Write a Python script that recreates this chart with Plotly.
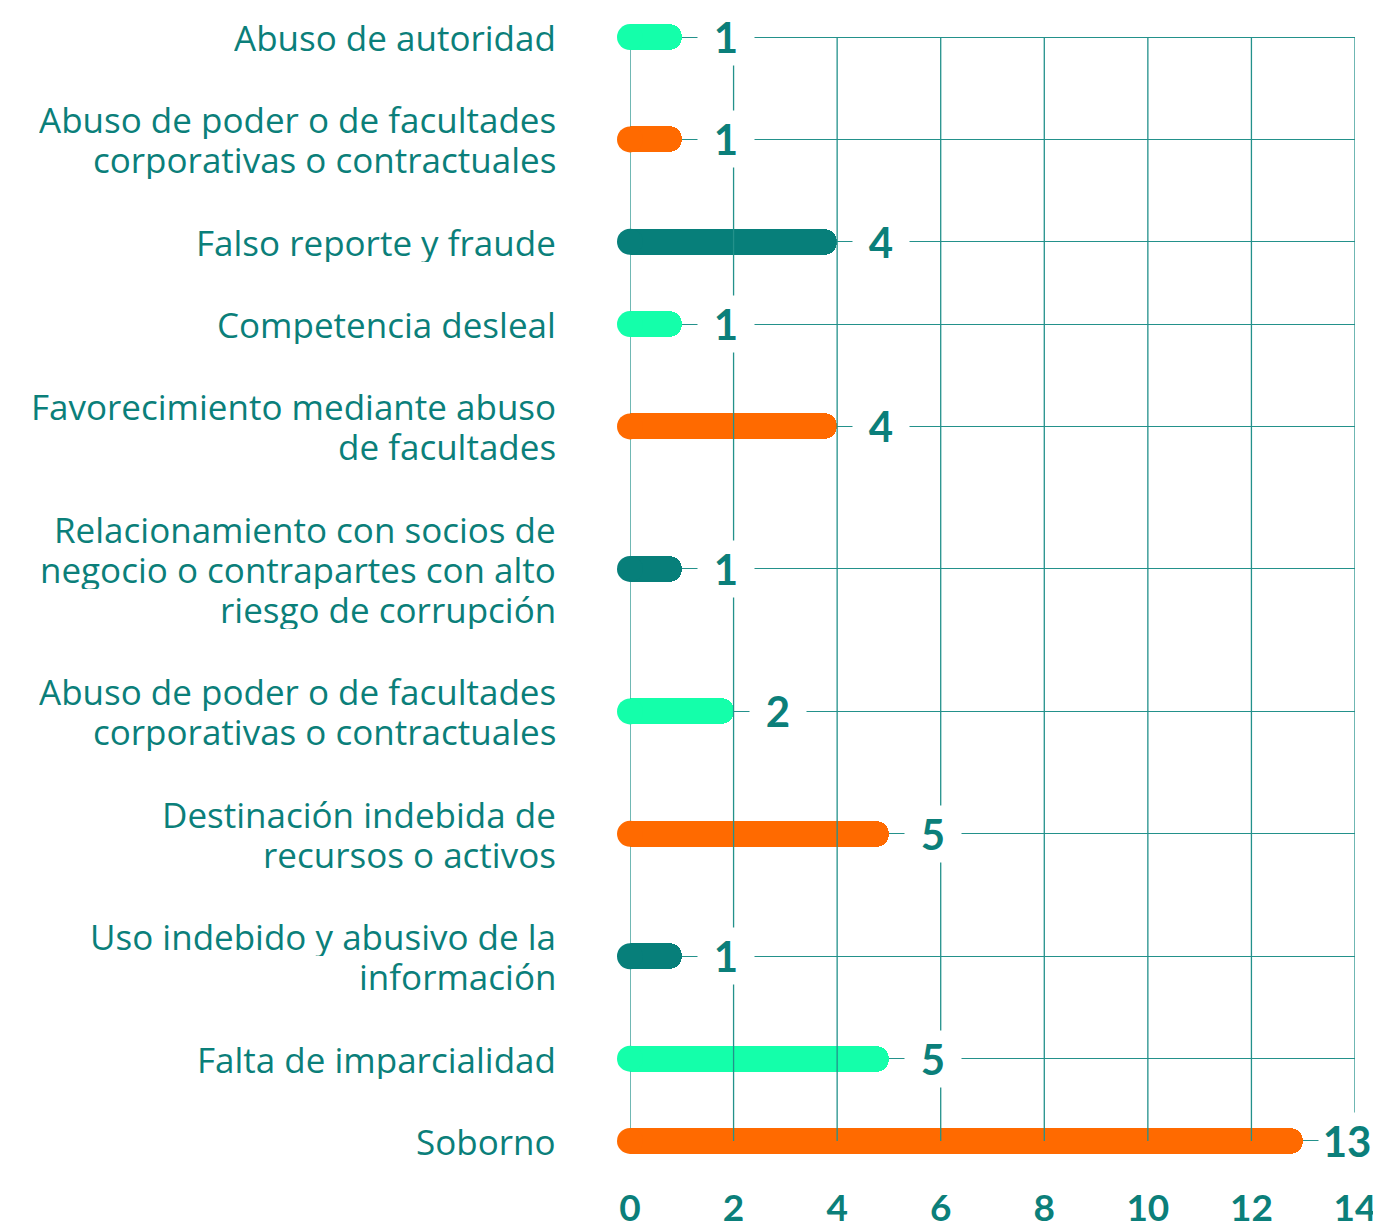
import plotly.graph_objects as go

categories = [
    "Abuso de autoridad",
    "Abuso de poder o de facultades<br>corporativas o contractuales",
    "Falso reporte y fraude",
    "Competencia desleal",
    "Favorecimiento mediante abuso<br>de facultades",
    "Relacionamiento con socios de<br>negocio o contrapartes con alto<br>riesgo de corrupción",
    "Abuso de poder o de facultades<br>corporativas o contractuales",
    "Destinación indebida de<br>recursos o activos",
    "Uso indebido y abusivo de la<br>información",
    "Falta de imparcialidad",
    "Soborno",
]
values = [1, 1, 4, 1, 4, 1, 2, 5, 1, 5, 13]
palette = ["#14ffaa", "#ff6a00", "#077f7a"]
x_ticks = [0, 2, 4, 6, 8, 10, 12, 14]

TEAL = "#0b7f7a"
GRID = "#23918b"
LINE_H = 40  # px between label lines

# vertical slots depend on the number of text lines of each label
lines = [c.count("<br>") + 1 for c in categories]
pos = [0.0]
for i in range(1, len(categories)):
    pos.append(pos[-1] + 42 + 40 * (lines[i - 1] + lines[i]) / 2)
PAD = 20

colors = [palette[i % 3] for i in range(len(categories))]

fig = go.Figure()

# vertical grid lines spanning first to last category
gx, gy = [], []
for t in x_ticks:
    gx += [t, t, None]
    gy += [pos[0], pos[-1], None]
fig.add_trace(go.Scatter(
    x=gx, y=gy, mode="lines", line=dict(color=GRID, width=1.3),
    cliponaxis=False, hoverinfo="skip", showlegend=False,
))

fig.add_trace(go.Bar(
    x=values, y=pos, orientation="h", width=26,
    marker=dict(color=colors, cornerradius=13, line=dict(width=0)),
    hoverinfo="skip", showlegend=False,
))
# rounded left caps
fig.add_trace(go.Scatter(
    x=[0] * len(values), y=pos, mode="markers",
    marker=dict(symbol="circle", size=26, color=colors, line=dict(width=0)),
    cliponaxis=False, hoverinfo="skip", showlegend=False,
))

# value labels
for v, p in zip(values, pos):
    fig.add_annotation(
        x=v, y=p, xref="x", yref="y", text=str(v), width=50,
        showarrow=False, xanchor="left", yanchor="middle", xshift=15,
        bgcolor="white", borderpad=3, align="center",
        font=dict(family="Lato", size=42, color=TEAL, weight="bold"),
    )

# category labels, one annotation per text line
for cat, p in zip(categories, pos):
    parts = cat.split("<br>")
    n = len(parts)
    for k, part in enumerate(parts):
        fig.add_annotation(
            x=0, y=p, xref="x", yref="y", text=part, height=LINE_H,
            showarrow=False, xanchor="right", yanchor="middle", valign="middle",
            xshift=-73, yshift=-(k - (n - 1) / 2) * LINE_H, borderpad=0,
            font=dict(family="Open Sans", size=35, color=TEAL),
        )

# the page body has an 8px margin, so the figure is 8px smaller
fig.update_layout(
    width=1373, height=1224,
    margin=dict(l=622, r=26, t=9, b=71, autoexpand=False),
    paper_bgcolor="white", plot_bgcolor="white",
    bargap=0,
)
fig.update_xaxes(
    range=[0, 14], tickvals=x_ticks, ticktext=[str(t) for t in x_ticks],
    showgrid=False, zeroline=False, showline=False, automargin=False,
    ticks="outside", ticklen=15, tickcolor="rgba(0,0,0,0)",
    tickfont=dict(family="Lato", size=37, color=TEAL, weight="bold"),
)
fig.update_yaxes(
    range=[pos[-1] + PAD, pos[0] - PAD], tickvals=pos, showticklabels=False,
    showgrid=True, gridcolor=GRID, gridwidth=1.3, zeroline=False, showline=False,
    automargin=False,
)

fig.write_html("out.html")
